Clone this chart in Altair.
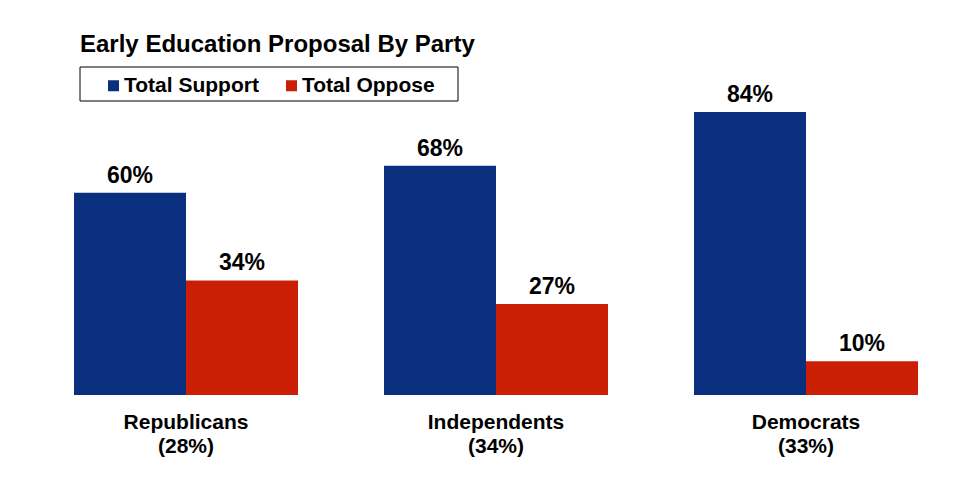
import altair as alt
import pandas as pd

title_text = "Early Education Proposal By Party"
parties = ["Republicans", "Independents", "Democrats"]
shares = ["(28%)", "(34%)", "(33%)"]
series = ["Total Support", "Total Oppose"]
support = [60, 68, 84]
oppose = [34, 27, 10]
colors = ["#0A2F7E", "#CB1F05"]

rows = []
for p, s, a, b in zip(parties, shares, support, oppose):
    rows.append({"party": p + "|" + s, "series": series[0], "value": a})
    rows.append({"party": p + "|" + s, "series": series[1], "value": b})
df = pd.DataFrame(rows)
party_order = [p + "|" + s for p, s in zip(parties, shares)]

FONT = "Liberation Sans"

x_enc = alt.X(
    "party:N",
    sort=party_order,
    scale=alt.Scale(range=[66, 910], paddingInner=86 / 310, paddingOuter=0),
    axis=alt.Axis(
        title=None,
        ticks=False,
        domain=False,
        labelAngle=0,
        labelExpr="split(datum.label, '|')",
        labelFont=FONT,
        labelFontSize=21,
        labelFontWeight="bold",
        labelColor="#000000",
        labelLineHeight=24,
        labelPadding=16,
    ),
)
xoff = alt.XOffset("series:N", sort=series, scale=alt.Scale(paddingInner=0, paddingOuter=0))
y_enc = alt.Y("value:Q", scale=alt.Scale(domain=[0, 387 / 3.37], nice=False), axis=None)

base = alt.Chart(df)

bars = base.mark_bar(size=112).encode(
    x=x_enc,
    xOffset=xoff,
    y=y_enc,
    color=alt.Color(
        "series:N",
        sort=series,
        scale=alt.Scale(domain=series, range=colors),
        legend=alt.Legend(
            title=None,
            orient="none",
            legendX=95,
            legendY=67,
            direction="horizontal",
            symbolType="square",
            symbolSize=121,
            symbolStrokeWidth=0,
            labelFont=FONT,
            labelFontSize=21,
            labelFontWeight="bold",
            labelColor="#000000",
            labelOffset=0,
            columnPadding=22,
            padding=0,
        ),
    ),
)

labels = base.transform_calculate(lbl="datum.value + '%'").mark_text(
    font=FONT, fontSize=23, fontWeight="bold", color="#000000", baseline="alphabetic", dy=-10
).encode(x=x_enc, xOffset=xoff, y=y_enc, text="lbl:N")

title = alt.Chart(pd.DataFrame({"t": [title_text]})).mark_text(
    font=FONT, fontSize=24, fontWeight="bold", color="#000000", align="left", baseline="alphabetic"
).encode(x=alt.value(72), y=alt.value(44), text="t:N")

box = alt.Chart(pd.DataFrame({"b": [1]})).mark_rect(
    fill=None, stroke="#000000", strokeWidth=1
).encode(x=alt.value(72), x2=alt.value(450), y=alt.value(59), y2=alt.value(93))

chart = alt.layer(box, bars, labels, title).properties(
    width=959,
    height=387,
    autosize=alt.AutoSizeParams(type="none"),
    padding={"left": 0, "top": 0, "right": 0, "bottom": 89},
).configure(background="#ffffff").configure_view(strokeWidth=0, stroke="transparent")

chart.save("out.html", embed_options={"renderer": "svg", "actions": False})
